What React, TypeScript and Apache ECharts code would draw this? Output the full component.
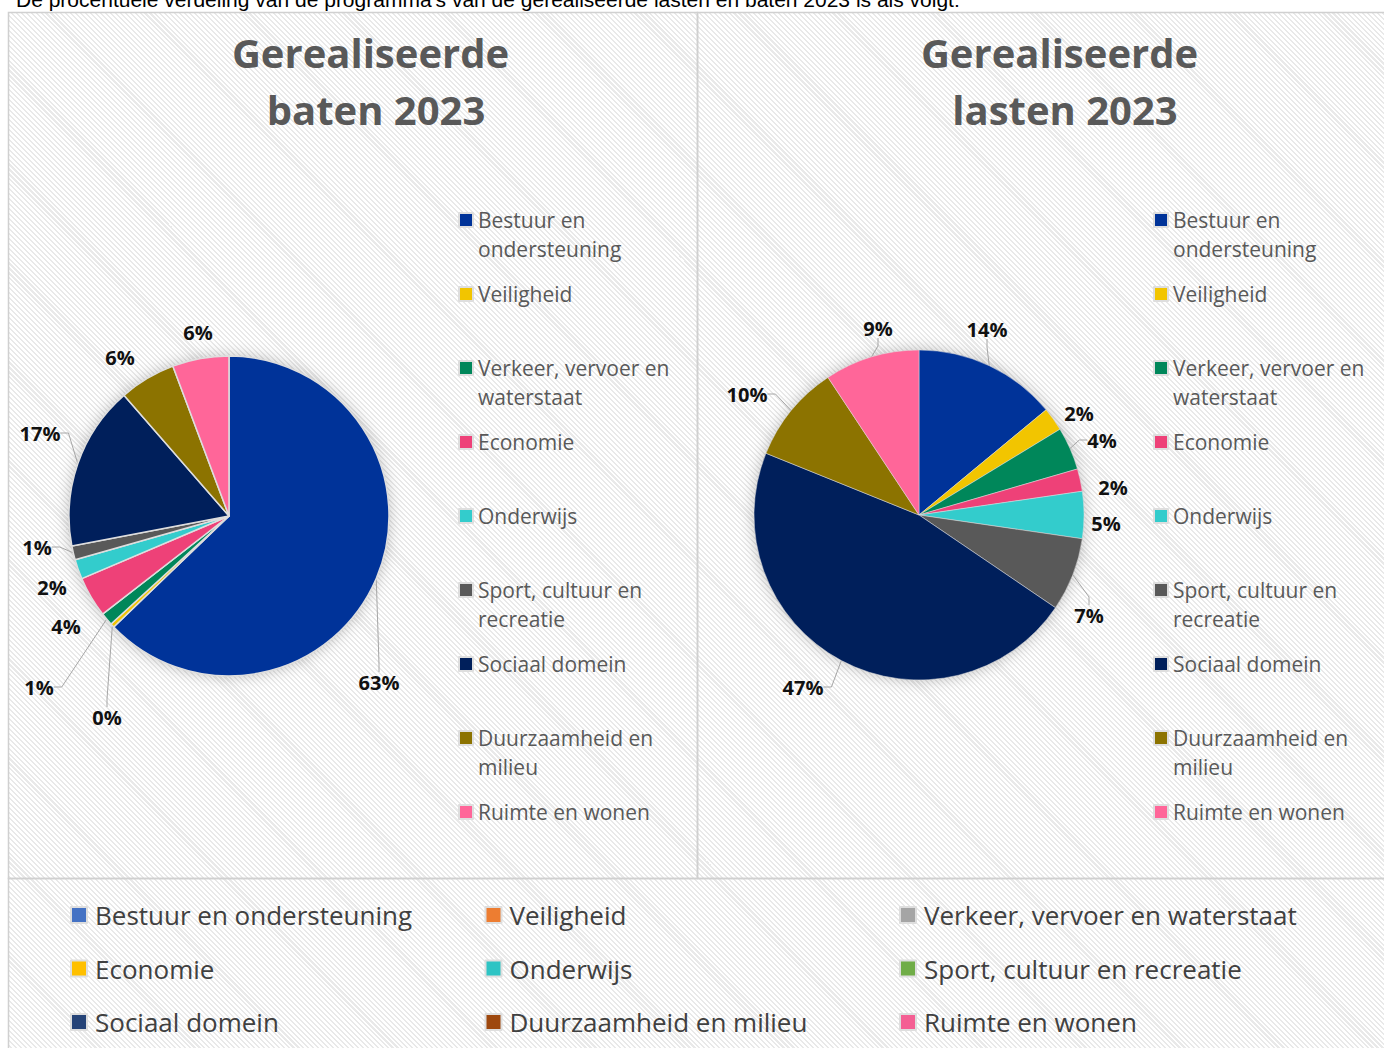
import React, { useEffect, useRef } from 'react';
import * as echarts from 'echarts';

const intro = "De procentuele verdeling van de programma's van de gerealiseerde lasten en baten 2023 is als volgt:";
const titleLines = [
  ['Gerealiseerde', 'baten 2023'],
  ['Gerealiseerde', 'lasten 2023'],
];
const categories = [
  'Bestuur en ondersteuning',
  'Veiligheid',
  'Verkeer, vervoer en waterstaat',
  'Economie',
  'Onderwijs',
  'Sport, cultuur en recreatie',
  'Sociaal domein',
  'Duurzaamheid en milieu',
  'Ruimte en wonen',
];
// wrapped legend texts (first line blank so the marker sits beside the first text line)
const sideLegendLabels = [
  ' \nBestuur en\nondersteuning',
  ' \nVeiligheid\n ',
  ' \nVerkeer, vervoer en\nwaterstaat',
  ' \nEconomie\n ',
  ' \nOnderwijs\n ',
  ' \nSport, cultuur en\nrecreatie',
  ' \nSociaal domein\n ',
  ' \nDuurzaamheid en\nmilieu',
  ' \nRuimte en wonen\n ',
];
// percentages (slice angles)
const batenValues = [62.8, 0.4, 1.3, 4.1, 2.0, 1.4, 16.6, 5.7, 5.7];
const lastenValues = [14.0, 2.3, 4.2, 2.2, 4.6, 7.2, 46.6, 9.6, 9.3];
const sliceColors = ['#003399', '#F2C500', '#00875A', '#EE4178', '#33CCCC', '#595959', '#001F5B', '#8C7300', '#FF6699'];
const bottomLegendColors = ['#4472C4', '#ED7D31', '#A5A5A5', '#FFC000', '#2EC4C4', '#70AD47', '#264478', '#9E480E', '#F45F93'];

// where the data labels sit (label centres) and which have a leader line
const batenLabelAt = [[379, 682], [107, 717], [39, 687], [66, 626], [52, 587], [37, 547], [40, 433], [120, 357], [198, 332]];
const batenLeader = [true, true, true, false, false, true, true, false, false];
const lastenLabelAt = [[987, 329], [1079, 413], [1102, 440], [1113, 487], [1106, 523], [1089, 615], [803, 687], [747, 394], [878, 328]];
const lastenLeader = [true, false, true, false, false, true, true, true, true];

const pies = [
  { center: [229, 516], radius: 160 },
  { center: [919, 515], radius: 165 },
];

const FONT = '"Open Sans", "Noto Sans", sans-serif';

function pieSeries(values: number[], center: number[], radius: number, border: number, labelAt: number[][], leader: boolean[]) {
  return {
    type: 'pie',
    z: 2,
    center,
    radius,
    startAngle: 90,
    clockwise: true,
    silent: true,
    percentPrecision: 0,
    avoidLabelOverlap: false,
    emphasis: { disabled: true },
    data: categories.map((name, i) => ({
      name,
      value: values[i],
      itemStyle: { color: sliceColors[i] },
      labelLine: { show: leader[i] },
    })),
    itemStyle: { borderColor: '#dedede', borderWidth: border },
    label: {
      show: true,
      position: 'outside',
      formatter: '{d}%',
      fontSize: 20,
      fontWeight: 'bold',
      color: '#111111',
      fontFamily: FONT,
    },
    labelLine: { show: true, length: 10, length2: 8, lineStyle: { color: '#a6a6a6', width: 1 } },
    labelLayout: (p: any) => ({
      x: labelAt[p.dataIndex][0],
      y: labelAt[p.dataIndex][1],
      align: 'center',
      verticalAlign: 'middle',
    }),
  };
}

function sideLegend(left: number) {
  return {
    orient: 'vertical',
    left,
    top: 176.5,
    padding: 0,
    itemGap: -13,
    itemWidth: 14,
    itemHeight: 14,
    icon: 'rect',
    selectedMode: false,
    data: categories,
    formatter: (name: string) => sideLegendLabels[categories.indexOf(name)],
    textStyle: {
      fontSize: 21,
      color: '#595959',
      lineHeight: 29,
      fontFamily: FONT,
    },
  };
}

export default function App() {
  const ref = useRef<HTMLDivElement>(null);
  useEffect(() => {
    if (!ref.current) return;
    const chart = echarts.init(ref.current, undefined, { renderer: 'svg' });
    const titleCenters = [
      [370.5, 376],
      [1059.5, 1065],
    ];
    const graphic: any[] = [
      {
        type: 'text',
        x: 16,
        y: 10,
        silent: true,
        style: { text: intro, fontSize: 21, fontFamily: '"Liberation Sans", Arial, sans-serif', fill: '#000', verticalAlign: 'bottom' },
      },
      { type: 'rect', silent: true, shape: { x: 8.5, y: 12.5, width: 689, height: 866 }, style: { fill: 'none', stroke: '#d0d0d0', lineWidth: 1.5 } },
      { type: 'rect', silent: true, shape: { x: 697.5, y: 12.5, width: 700, height: 866 }, style: { fill: 'none', stroke: '#d0d0d0', lineWidth: 1.5 } },
      { type: 'rect', silent: true, shape: { x: 8.5, y: 878.5, width: 1400, height: 200 }, style: { fill: 'none', stroke: '#d0d0d0', lineWidth: 1.5 } },
    ];
    // soft halo under each pie
    pies.forEach((p) => {
      graphic.push({
        type: 'circle',
        silent: true,
        z: 0,
        shape: { cx: p.center[0], cy: p.center[1], r: p.radius - 1 },
        style: { fill: '#ffffff', shadowBlur: 16, shadowColor: 'rgba(0,0,0,0.28)' },
      });
    });
    titleLines.forEach((lines, p) => {
      lines.forEach((t, l) => {
        graphic.push({
          type: 'text',
          x: titleCenters[p][l],
          y: 52 + l * 57,
          silent: true,
          style: {
            text: t,
            fontSize: 40,
            fontWeight: 'bold',
            fontFamily: FONT,
            fill: '#595959',
            align: 'center',
            verticalAlign: 'middle',
          },
        });
      });
    });
    chart.setOption({
      animation: false,
      backgroundColor: 'transparent',
      textStyle: { fontFamily: FONT },
      graphic,
      legend: [
        sideLegend(458),
        sideLegend(1153),
        {
          orient: 'horizontal',
          left: 70,
          top: 900,
          width: 1240,
          padding: 0,
          itemGap: 23.5,
          itemWidth: 16,
          itemHeight: 16,
          icon: 'rect',
          selectedMode: false,
          data: categories.map((name, i) => ({ name, itemStyle: { color: bottomLegendColors[i] } })),
          textStyle: {
            fontSize: 26,
            color: '#404040',
            lineHeight: 30,
            width: 366,
            overflow: 'none',
            padding: [0, 0, 0, 3],
            fontFamily: FONT,
          },
        },
      ],
      series: [
        pieSeries(batenValues, pies[0].center, pies[0].radius, 1.5, batenLabelAt, batenLeader),
        pieSeries(lastenValues, pies[1].center, pies[1].radius, 0.5, lastenLabelAt, lastenLeader),
      ],
    });
    return () => chart.dispose();
  }, []);
  return (
    <div style={{ position: 'absolute', left: 0, top: 0, width: 1384, height: 1048, overflow: 'hidden', background: '#fff' }}>
      <div
        style={{
          position: 'absolute',
          left: 8,
          top: 12,
          right: 0,
          bottom: 0,
          background: 'repeating-linear-gradient(45deg, #ffffff 0px, #ffffff 2px, #e9e9e9 2px, #e9e9e9 3.5px)',
        }}
      />
      <div ref={ref} style={{ position: 'absolute', left: 0, top: 0, width: 1384, height: 1048 }} />
    </div>
  );
}
